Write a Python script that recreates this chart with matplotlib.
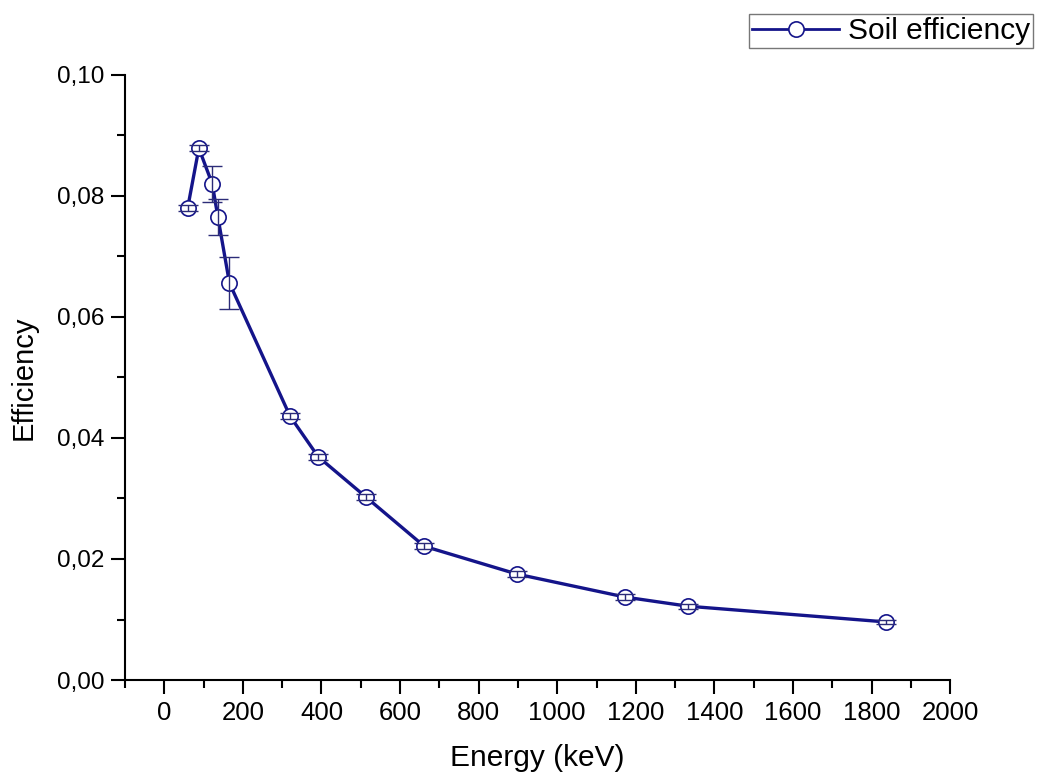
import matplotlib
matplotlib.use("Agg")
import matplotlib.pyplot as plt
from matplotlib.lines import Line2D
from matplotlib.ticker import MultipleLocator, FuncFormatter

energy = [59.5, 88.0, 122.1, 136.5, 165.9, 320.1, 391.7, 514.0, 661.7, 898.0, 1173.2, 1332.5, 1836.1]
efficiency = [0.0780, 0.0879, 0.0820, 0.0765, 0.0656, 0.0436, 0.0369, 0.0302, 0.0221, 0.0175, 0.0137, 0.0122, 0.0096]
error = [0.0005, 0.0005, 0.0030, 0.0030, 0.0043, 0.0005, 0.0005, 0.0005, 0.0005, 0.0005, 0.0005, 0.0004, 0.0004]

plt.rcParams["font.family"] = ["Liberation Sans", "DejaVu Sans"]

fig = plt.figure(figsize=(10.38, 7.76), dpi=100)
ax = fig.add_axes([0.1204, 0.1237, 0.795, 0.7797])

navy = "#14148a"
# line + open markers, error bars drawn over them like Origin does
ax.plot(energy, efficiency, color=navy, lw=2.4, marker="o", markersize=11,
        markerfacecolor="white", markeredgecolor=navy, markeredgewidth=1.2,
        zorder=3)
ax.errorbar(energy, efficiency, yerr=error, fmt="none", ecolor="#2c2c78",
            elinewidth=1.0, capsize=7, capthick=1.0, zorder=4)

ax.set_xlim(-100, 2000)
ax.set_ylim(0, 0.10)
ax.xaxis.set_major_locator(MultipleLocator(200))
ax.xaxis.set_minor_locator(MultipleLocator(100))
ax.yaxis.set_major_locator(MultipleLocator(0.02))
ax.yaxis.set_minor_locator(MultipleLocator(0.01))
ax.yaxis.set_major_formatter(FuncFormatter(lambda v, p: f"{v:.2f}".replace(".", ",")))

ax.spines["top"].set_visible(False)
ax.spines["right"].set_visible(False)
for s in ("left", "bottom"):
    ax.spines[s].set_linewidth(1.5)
ax.tick_params(which="major", direction="out", length=10, width=1.5, pad=5)
ax.tick_params(which="minor", direction="out", length=6, width=1.5)
ax.tick_params(axis="x", labelsize=18.5)
ax.tick_params(axis="y", labelsize=17.5)

ax.set_xlabel("Energy (keV)", fontsize=21.5, labelpad=14)
ax.set_ylabel("Efficiency", fontsize=21, labelpad=14)

handle = Line2D([], [], color=navy, lw=2.0, marker="o", markersize=11,
                markerfacecolor="white", markeredgecolor=navy, markeredgewidth=1.2)
leg = fig.legend([handle], ["Soil efficiency"], loc="upper right",
                 bbox_to_anchor=(1033 / 1038, 1 - 14 / 776), fontsize=21.5,
                 frameon=True, fancybox=False, edgecolor="#555555",
                 handlelength=2.9, borderpad=0.1, handletextpad=0.3,
                 borderaxespad=0)
leg.get_frame().set_linewidth(1.0)

fig.savefig("out.png", dpi=100)
